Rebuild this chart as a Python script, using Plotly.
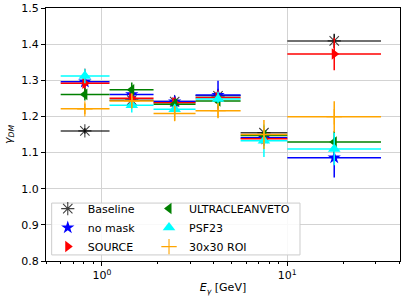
import plotly.graph_objects as go
import math

# Energy bins (GeV)
bin_lo = [0.6, 1.1, 1.9, 3.2, 5.6, 10.0]
bin_hi = [1.1, 1.9, 3.2, 5.6, 10.0, 32.0]
centers = [0.81, 1.45, 2.47, 4.23, 7.48, 17.9]

series_names = ["Baseline", "no mask", "SOURCE", "ULTRACLEANVETO", "PSF23", "30x30 ROI"]

baseline = [1.160, 1.245, 1.241, 1.257, 1.155, 1.409]
baseline_err = [0.008, 0.008, 0.008, 0.008, 0.008, 0.02]
nomask = [1.296, 1.261, 1.241, 1.259, 1.141, 1.086]
nomask_err = [0.03, 0.02, 0.015, 0.04, 0.02, 0.055]
source = [1.292, 1.250, 1.238, 1.252, 1.138, 1.373]
source_err = [0.04, 0.02, 0.015, 0.02, 0.02, 0.045]
ucv = [1.261, 1.274, 1.234, 1.243, 1.147, 1.129]
ucv_err = [0.017, 0.02, 0.015, 0.02, 0.02, 0.03]
psf23 = [1.312, 1.231, 1.220, 1.248, 1.133, 1.110]
psf23_err = [0.02, 0.02, 0.015, 0.02, 0.045, 0.045]
roi30 = [1.221, 1.243, 1.208, 1.216, 1.150, 1.199]
roi30_err = [0.015, 0.02, 0.02, 0.02, 0.04, 0.043]

x_plus = [h - c for h, c in zip(bin_hi, centers)]
x_minus = [c - l for l, c in zip(bin_lo, centers)]

styles = [
    (baseline, baseline_err, "rgba(0,0,0,0.75)", "asterisk-open", 11),
    (nomask, nomask_err, "blue", "star", 10),
    (source, source_err, "red", "triangle-right", 10),
    (ucv, ucv_err, "green", "triangle-left", 10),
    (psf23, psf23_err, "cyan", "triangle-up", 11),
    (roi30, roi30_err, "orange", "cross-thin-open", 11),
]
# two-column legend: first three in legend, last three in legend2
legend_ids = ["legend", "legend", "legend", "legend2", "legend2", "legend2"]

fig = go.Figure()
for name, (vals, errs, col, sym, sz), lg in zip(series_names, styles, legend_ids):
    line_sym = sym.endswith("-open")
    fig.add_trace(go.Scatter(
        x=centers, y=vals, mode="markers", name=name, legend=lg,
        marker=dict(symbol=sym, size=sz, color=col,
                    line=dict(color=col, width=1.1 if line_sym else 0)),
        error_x=dict(type="data", symmetric=False, array=x_plus, arrayminus=x_minus,
                     color=col, thickness=1.5, width=0),
        error_y=dict(type="data", array=errs, color=col, thickness=1.5, width=0),
    ))

minor_vals = [0.5, 0.6, 0.7, 0.8, 0.9, 2, 3, 4, 5, 6, 7, 8, 9, 20, 30, 40]

legend_common = dict(
    orientation="v", yanchor="middle", xanchor="left",
    bgcolor="rgba(0,0,0,0)", borderwidth=0, font=dict(size=11), tracegroupgap=0,
)

fig.update_layout(
    width=407, height=305,
    margin=dict(l=46, r=7, t=8, b=44, autoexpand=False),
    paper_bgcolor="white", plot_bgcolor="white",
    font=dict(family="DejaVu Sans", size=11, color="black"),
    showlegend=True,
    legend=dict(x=0.005, y=0.132, **legend_common),
    legend2=dict(x=0.291, y=0.132, **legend_common),
    shapes=[dict(
        type="rect", xref="paper", yref="paper",
        x0=0.016, x1=0.7175, y0=0.024, y1=0.229,
        fillcolor="rgba(255,255,255,0.85)", line=dict(color="#cccccc", width=1),
        layer="above",
    )],
    xaxis=dict(
        type="log", range=[math.log10(0.5), math.log10(40.5)],
        tickvals=[1, 10], ticktext=["10<sup>0</sup>", "10<sup>1</sup>"],
        showgrid=True, gridcolor="#d3d3d3", gridwidth=1,
        showline=True, linecolor="black", linewidth=1, mirror=True,
        ticks="outside", ticklen=4, tickcolor="black",
        minor=dict(tickvals=minor_vals, ticks="outside", ticklen=2, tickcolor="black", showgrid=False),
        title=dict(text="<i>E</i><sub><i>γ</i></sub> [GeV]", standoff=2, font=dict(size=11)),
        zeroline=False, automargin=False,
    ),
    yaxis=dict(
        range=[0.8, 1.5], dtick=0.1, tick0=0.8, tickformat=".1f",
        showgrid=True, gridcolor="#d3d3d3", gridwidth=1,
        showline=True, linecolor="black", linewidth=1, mirror=True,
        ticks="outside", ticklen=4, tickcolor="black",
        title=dict(text="<i>γ</i><sub><i>DM</i></sub>", standoff=6, font=dict(size=11)),
        zeroline=False, automargin=False,
    ),
)

fig.write_html(
    "out.html",
    config={"displayModeBar": False},
    post_script="document.body.style.margin='0';document.body.style.overflow='hidden';",
)
